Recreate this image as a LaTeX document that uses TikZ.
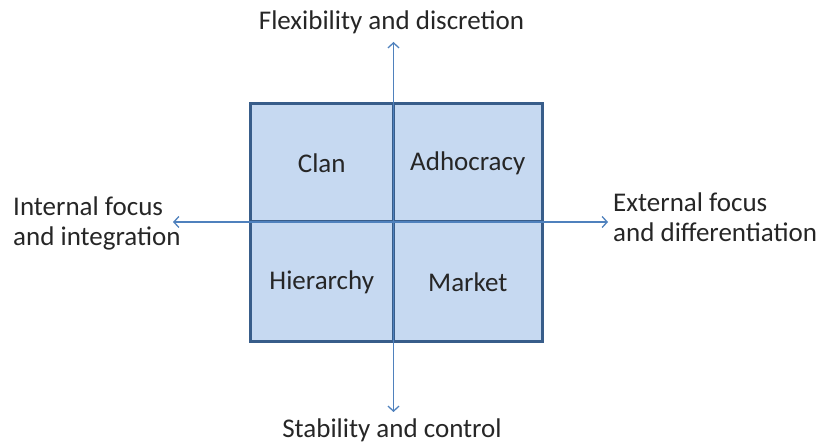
\documentclass[tikz,border=0pt]{standalone}
\usepackage{fontspec}
\setmainfont{Carlito}
\usetikzlibrary{arrows.meta}
\definecolor{cellfill}{HTML}{C6D9F1}
\definecolor{celldraw}{HTML}{385D8A}
\definecolor{arrowcol}{HTML}{4F81BD}
\begin{document}
\begin{tikzpicture}[x=1pt,y=-1pt,
  cell/.style={draw=celldraw,fill=cellfill,line width=3pt,outer sep=0pt,anchor=center,font=\fontsize{27}{30}\selectfont,text=black!85},
  axis/.style={draw=arrowcol,line width=1.3pt,-{Straight Barb[length=5pt,width=11pt,line width=1.3pt]}},
  lbl/.style={font=\fontsize{27}{30}\selectfont,text=black!85,inner sep=0pt}]
\useasboundingbox (0,0) rectangle (823,446);
\node[cell,minimum width=143.5pt,minimum height=118pt] (clan) at (321.75,163) {Clan};
\node[cell,minimum width=148.5pt,minimum height=118pt] (adho) at (467.75,163) {Adhocracy};
\node[cell,minimum width=143.5pt,minimum height=120pt] (hier) at (321.75,282) {Hierarchy};
\node[cell,minimum width=148.5pt,minimum height=120pt] (mark) at (467.75,282) {Market};
\coordinate (c) at (393.5,222);
\coordinate (top) at (393.5,42);
\coordinate (bot) at (393.5,412);
\coordinate (lft) at (173,222);
\coordinate (rgt) at (608,222);
\draw[axis] (c) -- (top);
\draw[axis] (c) -- (bot);
\draw[axis] (c) -- (lft);
\draw[axis] (c) -- (rgt);
\node[lbl,anchor=base] (tl) at (391.5,30) {Flexibility and discretion};
\node[lbl,anchor=base] (bl) at (392,438) {Stability and control};
\node[lbl,anchor=base west] (ll1) at (13,216) {Internal focus};
\node[lbl,anchor=base west] (ll2) at (13,246) {and integration};
\node[lbl,anchor=base west] (rl1) at (613,212) {External focus};
\node[lbl,anchor=base west] (rl2) at (613,242) {and differentiation};
\end{tikzpicture}
\end{document}
